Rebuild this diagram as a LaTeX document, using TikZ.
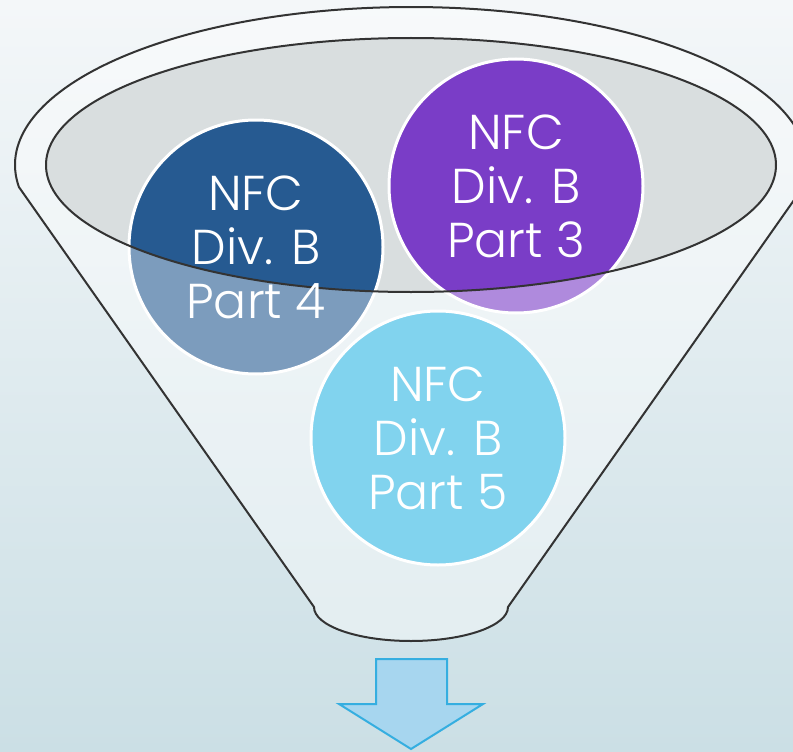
\documentclass[tikz,border=0pt]{standalone}
\usepackage{fontspec}
\setmainfont{Poppins}[UprightFont=* Light]
\definecolor{bgtop}{HTML}{F4F7F9}
\definecolor{bgbot}{HTML}{CBDFE5}
\definecolor{innergray}{HTML}{D9DEDF}
\definecolor{outline}{HTML}{333333}
\definecolor{cfour}{HTML}{265A91}
\definecolor{cthree}{HTML}{7A3DC7}
\definecolor{cfive}{HTML}{2EB6E4}
\definecolor{arrowfill}{HTML}{A7D6EF}
\definecolor{arrowline}{HTML}{35AEE0}
\tikzset{
  circ/.style={circle, draw=white, line width=3pt, minimum size=254pt, inner sep=0pt},
  lbl/.style={text=white, align=center, font=\fontsize{49}{54}\selectfont, inner sep=0pt},
  funnelline/.style={draw=outline, line width=2pt, line join=round},
}
\begin{document}
\begin{tikzpicture}[x=1pt,y=-1pt]
\useasboundingbox (0,0) rectangle (793,752);
\clip (0,0) rectangle (793,752);
\shade[top color=bgtop, bottom color=bgbot] (0,0) rectangle (793,752);
% inner opening
\fill[innergray] (411,165) ellipse[x radius=365, y radius=127];
% circles
\node[circ, fill=cfour] (p4) at (256,247) {};
\node[circ, fill=cthree] (p3) at (516,186) {};
\node[circ, fill=cfive] (p5) at (438,438) {};
% funnel body overlay
\fill[white, fill opacity=0.4, even odd rule]
  (18.9,187) arc[start angle=172, end angle=368, x radius=396, y radius=158]
  -- (508,607) arc[start angle=0, end angle=180, x radius=97, y radius=34]
  -- cycle
  (411,165) ellipse[x radius=365, y radius=127];
% outlines
\draw[funnelline]
  (18.9,187) arc[start angle=172, end angle=368, x radius=396, y radius=158]
  -- (508,607) arc[start angle=0, end angle=180, x radius=97, y radius=34]
  -- cycle;
\draw[funnelline] (411,165) ellipse[x radius=365, y radius=127];
% labels
\node[lbl] (t4) at (p4) {NFC\\Div. B\\Part 4};
\node[lbl] (t3) at (p3) {NFC\\Div. B\\Part 3};
\node[lbl] (t5) at (p5) {NFC\\Div. B\\Part 5};
% arrow
\draw[fill=arrowfill, draw=arrowline, line width=2pt, line join=miter]
  (376,659) -- (447,659) -- (447,704) -- (483,704) -- (411,749) -- (339,704) -- (376,704) -- cycle;
\end{tikzpicture}
\end{document}
